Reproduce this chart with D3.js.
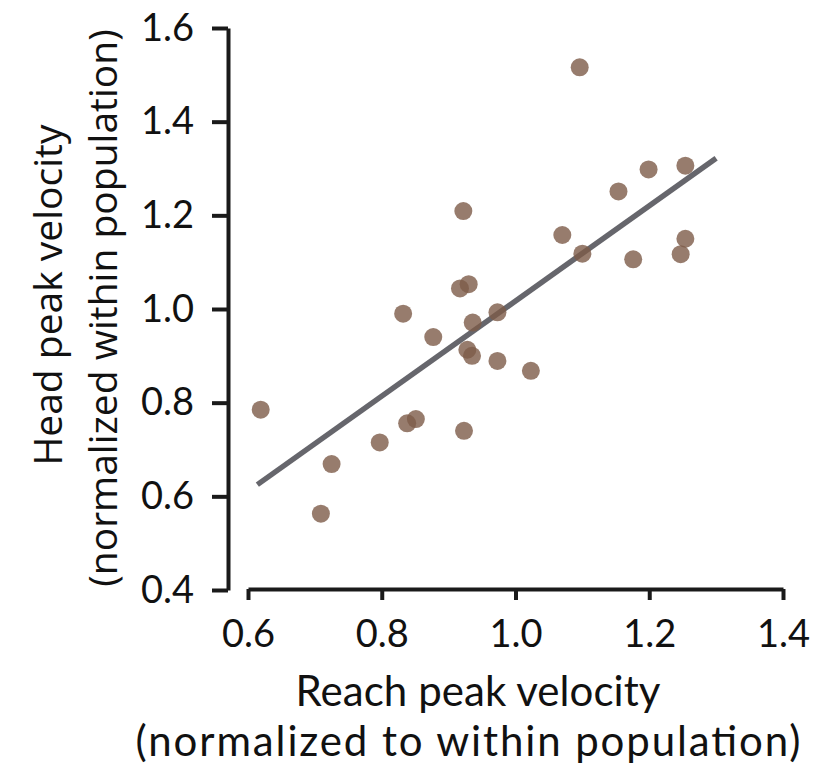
<!DOCTYPE html>
<html><head><meta charset="utf-8">
<script src="https://cdn.jsdelivr.net/npm/d3@7"></script>
<style>html,body{margin:0;padding:0;background:#fff;}</style>
</head><body>
<svg id="chart" width="817" height="766"></svg>
<script>
const reachX = [1.096,0.922,1.070,1.154,1.199,1.254,1.254,1.247,1.176,1.100,0.917,0.930,0.973,0.832,0.936,0.877,0.928,0.935,0.973,1.023,0.619,0.851,0.838,0.797,0.923,0.725,0.709];
const headY  = [1.516,1.209,1.158,1.251,1.298,1.306,1.150,1.117,1.106,1.118,1.044,1.053,0.993,0.990,0.971,0.940,0.913,0.900,0.889,0.868,0.785,0.765,0.756,0.715,0.740,0.669,0.563];
const fitX = [0.614, 1.300];
const fitY = [0.625, 1.322];
const xTicks = [0.6,0.8,1.0,1.2,1.4];
const yTicks = [0.4,0.6,0.8,1.0,1.2,1.4,1.6];
const xLabel = ["Reach peak velocity","(normalized to within population)"];
const yLabel = ["Head peak velocity","(normalized within population)"];

const svg = d3.select("#chart");
const x = d3.scaleLinear().domain([0.6,1.4]).range([248,783]);
const y = d3.scaleLinear().domain([0.4,1.6]).range([590,28]);
const tickFont = "Lato, 'Open Sans', sans-serif";

const xAxis = svg.append("g").attr("transform","translate(0,589)")
  .call(d3.axisBottom(x).tickValues(xTicks).tickFormat(d3.format(".1f")).tickSize(11).tickSizeOuter(0).tickPadding(20));
const yAxis = svg.append("g").attr("transform","translate(228,0)")
  .call(d3.axisLeft(y).tickValues(yTicks).tickFormat(d3.format(".1f")).tickSize(16).tickSizeOuter(0).tickPadding(18));
[xAxis,yAxis].forEach(g=>{
  g.select(".domain").attr("stroke","#1a1a1a").attr("stroke-width",4);
  g.selectAll(".tick line").attr("stroke","#1a1a1a").attr("stroke-width",4);
  g.selectAll(".tick text").attr("fill","#111").style("font-family",tickFont).style("font-size","38px");
});

// fit line
svg.append("line")
  .attr("x1",x(fitX[0])).attr("y1",y(fitY[0]))
  .attr("x2",x(fitX[1])).attr("y2",y(fitY[1]))
  .attr("stroke","#66666c").attr("stroke-width",5.5);

svg.append("g").selectAll("circle").data(reachX.map((v,i)=>[v,headY[i]])).join("circle")
  .attr("cx",d=>x(d[0])).attr("cy",d=>y(d[1])).attr("r",9)
  .attr("fill","#7d5b48").attr("fill-opacity",0.8);

const xLen = [365, 665], xCx = [478, 468];
svg.append("g").selectAll("text").data(xLabel).join("text")
  .attr("x",(d,i)=>xCx[i]).attr("y",(d,i)=>706+i*50).attr("text-anchor","middle")
  .attr("textLength",(d,i)=>xLen[i]).attr("lengthAdjust","spacing")
  .style("font-family",tickFont).style("font-size","42px").attr("fill","#111").text(d=>d);

const yBase = [62, 117], yCy = [295, 308];
svg.append("g").selectAll("text").data(yLabel).join("text")
  .attr("transform",(d,i)=>`translate(${yBase[i]},${yCy[i]}) rotate(-90)`).attr("text-anchor","middle")
  .style("font-family","'Open Sans', sans-serif").style("font-size","39px").attr("fill","#111").text(d=>d);
</script>
</body></html>
